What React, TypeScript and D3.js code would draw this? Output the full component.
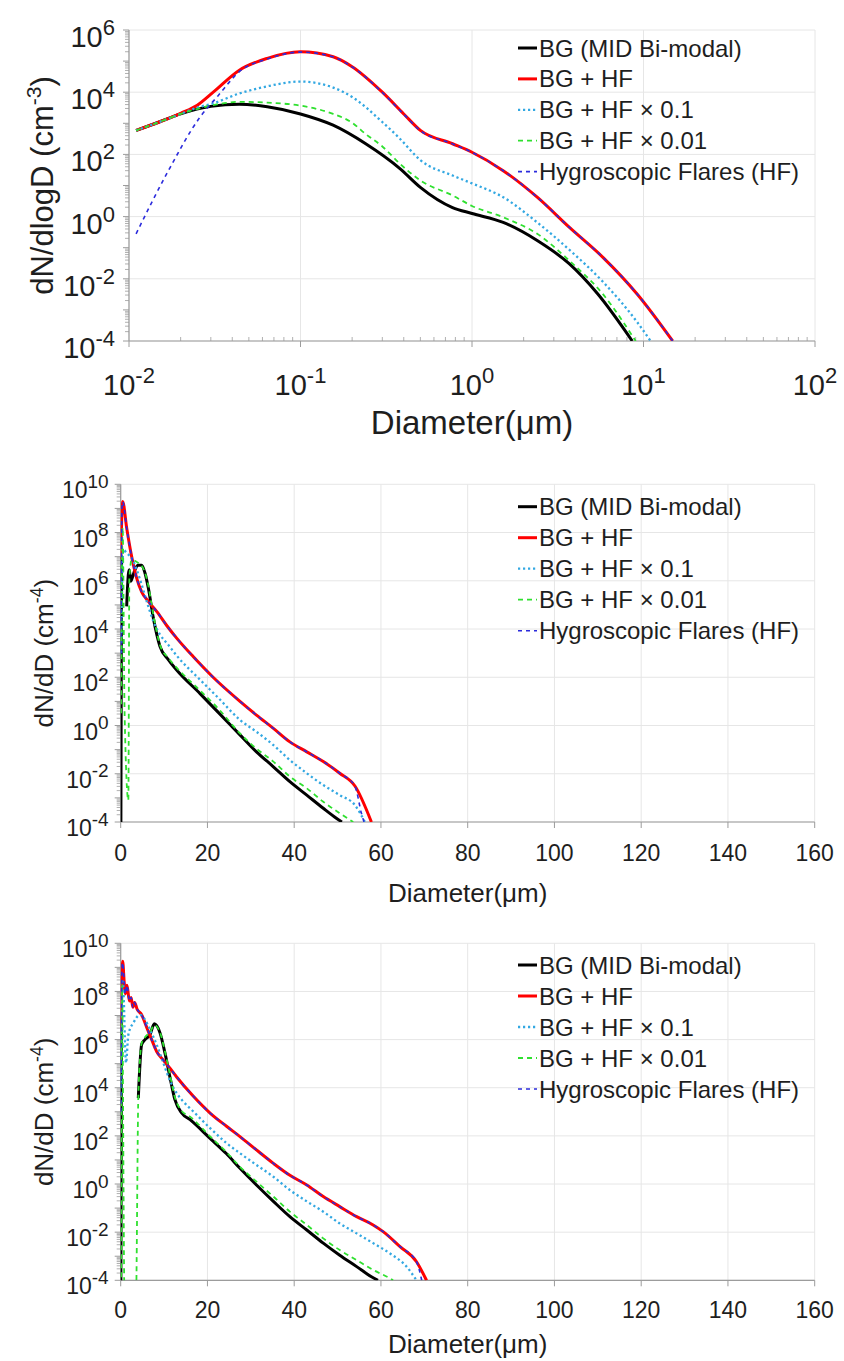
import React from 'react';
import * as d3 from 'd3';

type Pt = [number, number | null];

// ---------- top panel: diameter (um) vs dN/dlogD (cm^-3) ----------
const p1Bg: Pt[] = [
  [0.011, 590], [0.015, 1100], [0.02, 2000], [0.03, 3500], [0.044, 4100], [0.064, 3400],
  [0.1, 2000], [0.155, 870], [0.24, 220], [0.38, 35], [0.5, 8.7], [0.77, 1.95], [1.0, 1.26],
  [1.52, 0.65], [2.4, 0.17], [3.7, 0.03], [5.4, 3.3e-3], [8.6, 1e-4],
];
const p1Red: Pt[] = [
  [0.011, 590], [0.015, 1100], [0.02, 2100], [0.025, 3800], [0.031, 1.0e4], [0.044, 5.1e4],
  [0.064, 1.23e5], [0.1, 2.0e5], [0.155, 1.38e5], [0.2, 6.6e4], [0.3, 1.0e4], [0.4, 2.0e3],
  [0.5, 590], [0.77, 220], [1.0, 117], [1.52, 30], [2.4, 4.2], [3.7, 0.45], [5.8, 0.049],
  [9.2, 3.2e-3], [14.8, 1e-4],
];
const p1Cyan: Pt[] = [
  [0.011, 590], [0.015, 1100], [0.02, 2000], [0.025, 3200], [0.031, 4400], [0.044, 9100],
  [0.064, 1.55e4], [0.1, 2.2e4], [0.155, 1.41e4], [0.2, 7.0e3], [0.3, 1.1e3], [0.38, 320],
  [0.5, 65], [0.77, 21], [1.0, 11.7], [1.52, 4.2], [2.4, 0.65], [3.7, 0.085], [5.8, 8e-3],
  [9.2, 4e-4], [11, 1e-4],
];
const p1Green: Pt[] = [
  [0.011, 590], [0.015, 1100], [0.02, 2000], [0.03, 3700], [0.044, 4900], [0.064, 4600],
  [0.1, 3700], [0.155, 2000], [0.2, 1050], [0.24, 450], [0.3, 180], [0.38, 50], [0.5, 14.5],
  [0.77, 4.8], [1.0, 2.2], [1.52, 0.95], [2.4, 0.28], [3.7, 0.038], [5.8, 3.2e-3], [9.0, 1e-4],
];
const p1Hf: Pt[] = [
  [0.011, 0.28], [0.0166, 24], [0.026, 1600], [0.033, 7600], [0.044, 4.6e4], [0.064, 1.17e5],
  [0.1, 1.95e5], [0.155, 1.37e5], [0.2, 6.5e4], [0.3, 9.8e3], [0.4, 1.95e3], [0.5, 580],
  [0.77, 218], [1.0, 116], [1.52, 30], [2.4, 4.2], [3.7, 0.45], [5.8, 0.049], [9.2, 3.2e-3],
  [14.8, 1e-4],
];

// ---------- middle panel: diameter (um) vs dN/dD (cm^-4) ----------
const p2Bg: Pt[] = [
  [0.03, 1e-5], [0.2, 1e7], [0.25, null], [1.38, 8.7e4], [1.76, 1.8e6], [1.99, 2.9e6],
  [2.3, 9.5e5], [2.76, 1.5e6], [3.3, 2.9e6], [4.06, 4.4e6], [4.83, 4.4e6], [5.6, 2.1e6],
  [6.37, 5.0e5], [7.52, 2.9e4], [9.06, 1.9e3], [10.98, 540], [12.9, 200], [18.3, 21],
  [22.5, 3.5], [27.5, 0.41], [31.3, 0.081], [35.2, 0.0195], [39.0, 4.7e-3], [42.9, 1.3e-3],
  [46.7, 3.7e-4], [49.8, 1.4e-4], [51.0, 1e-4],
];
const p2Red: Pt[] = [
  [0.02, 7.9e6], [0.45, 1.95e9], [1.38, 1.55e8], [2.53, 1.0e7], [3.68, 1.3e6], [4.83, 3.5e5],
  [6.37, 1.4e5], [8.29, 5.4e4], [10.6, 1.4e4], [12.9, 4.2e3], [16.7, 720], [21.3, 100],
  [27.5, 10], [31.3, 2.7], [35.2, 0.76], [39.0, 0.21], [42.9, 0.081], [46.7, 0.032],
  [50.5, 0.0105], [54.0, 3.1e-3], [57.8, 1e-4],
];
const p2Cyan: Pt[] = [
  [0.1, 1e3], [0.6, 1.95e7], [1.38, 1.4e7], [2.53, 8.7e6], [3.68, 2.9e6], [4.83, 6.9e5],
  [6.0, 1.4e5], [7.52, 2.1e4], [9.06, 5.9e3], [10.98, 2.2e3], [12.9, 790], [18.3, 79],
  [22.5, 14], [27.5, 1.7], [31.3, 0.55], [35.2, 0.155], [39.0, 0.037], [42.9, 0.0105],
  [46.7, 3.4e-3], [50.5, 1.3e-3], [54.0, 5e-4], [56.3, 1e-4],
];
const p2Green: Pt[] = [
  [0.1, 3.2], [0.45, 1.6e8], [0.9, 3.2], [1.76, 8e-4], [2.0, 1.3e6], [2.53, 7.4e6],
  [4.06, 5.5e6], [4.83, 4.2e6], [5.6, 2.2e6], [6.37, 6.3e5], [7.52, 4.0e4], [9.06, 2.2e3],
  [10.98, 630], [12.9, 250], [18.3, 28], [22.5, 5.0], [27.5, 0.47], [31.3, 0.11],
  [35.2, 0.032], [39.0, 7.6e-3], [42.9, 2.5e-3], [46.7, 6.9e-4], [50.5, 2.3e-4], [53.6, 1e-4],
];
const p2Hf: Pt[] = [
  [0.05, 1e3], [0.3, 1.0e9], [0.45, 1.9e9], [1.38, 1.55e8], [2.53, 1.0e7], [3.68, 1.3e6],
  [4.83, 3.5e5], [6.37, 1.4e5], [8.29, 5.4e4], [10.6, 1.4e4], [12.9, 4.2e3], [16.7, 720],
  [21.3, 100], [27.5, 10], [31.3, 2.7], [35.2, 0.76], [39.0, 0.21], [42.9, 0.081],
  [46.7, 0.032], [50.5, 0.0105], [54.0, 3.1e-3], [55.5, 2.3e-4], [56.1, 1e-4],
];

// ---------- bottom panel: diameter (um) vs dN/dD (cm^-4) ----------
const p3Bg: Pt[] = [
  [0.03, 1e-5], [0.2, 1e7], [0.25, null], [4.06, 3.7e3], [4.83, 6.2e5], [5.6, 1.0e6],
  [6.75, 1.6e6], [7.75, 4.5e6], [9.06, 1.9e6], [10.2, 2.8e5], [11.4, 2.5e4], [12.5, 3.2e3],
  [14.05, 890], [16.0, 470], [20.6, 79], [24.4, 18], [27.5, 4.5], [31.3, 0.91], [35.2, 0.19],
  [39.0, 0.044], [42.9, 0.0123], [46.7, 3.5e-3], [50.5, 1.1e-3], [54.4, 3.7e-4],
  [57.8, 1.4e-4], [59.3, 1e-4],
];
const p3Red: Pt[] = [
  [0.02, 3.0e6], [0.45, 1.8e9], [0.8, 2.5e8], [1.05, 7.9e7], [1.45, 1.8e8], [2.0, 4.0e7],
  [2.4, 5.6e7], [2.8, 2.2e7], [3.2, 3.5e7], [3.8, 1.8e7], [4.8, 1.1e7], [6.0, 3.2e6],
  [7.14, 1.0e6], [8.29, 3.2e5], [9.83, 1.4e5], [11.4, 6.3e4], [12.9, 2.8e4], [16.7, 4.5e3],
  [20.6, 890], [24.4, 250], [27.5, 93], [31.3, 26], [35.2, 7.2], [39.0, 2.3], [42.9, 0.91],
  [46.7, 0.30], [50.5, 0.115], [54.4, 0.044], [58.2, 0.020], [60.5, 0.0105], [64.4, 2.5e-3],
  [68.2, 5.9e-4], [70.5, 1e-4],
];
const p3Cyan: Pt[] = [
  [0.1, 1e4], [0.5, 2.6e8], [1.22, 1.07e5], [1.76, 1.6e6], [2.9, 4.9e6], [4.45, 1.07e7],
  [5.6, 6.8e6], [6.75, 2.6e6], [8.29, 6.2e5], [9.83, 1.07e5], [11.4, 1.9e4], [12.9, 6.0e3],
  [14.4, 2.7e3], [16.7, 1.05e3], [20.6, 210], [24.4, 50], [27.5, 19], [31.3, 6.2], [35.2, 2.0],
  [39.0, 0.56], [42.9, 0.19], [46.7, 0.071], [50.5, 0.023], [54.4, 8.9e-3], [58.2, 3.5e-3],
  [62.1, 1.3e-3], [65.9, 3.7e-4], [68.2, 1e-4],
];
const p3Green: Pt[] = [
  [0.1, 1e-5], [0.3, 1.9e8], [0.9, 1e-5], [3.5, 1e-5], [4.06, 4.0e3], [4.83, 7.1e5],
  [5.6, 1.26e6], [6.75, 2.0e6], [7.75, 4.0e6], [9.06, 2.0e6], [10.2, 3.2e5], [11.4, 3.2e4],
  [12.5, 4.0e3], [14.05, 1.1e3], [16.0, 630], [20.6, 95], [24.4, 21], [27.5, 5.2],
  [31.3, 1.26], [35.2, 0.30], [39.0, 0.071], [42.9, 0.020], [46.7, 5.5e-3], [50.5, 1.8e-3],
  [54.4, 6.9e-4], [58.2, 2.7e-4], [62.1, 1.2e-4], [62.8, 1e-4],
];
const p3Hf: Pt[] = [
  [0.05, 1e3], [0.3, 1.0e9], [0.45, 1.6e9], [0.8, 2.5e8], [1.05, 7.9e7], [1.45, 1.8e8],
  [2.0, 4.0e7], [2.4, 5.6e7], [2.8, 2.2e7], [3.2, 3.5e7], [3.8, 1.8e7], [4.8, 1.1e7],
  [6.0, 3.2e6], [7.14, 1.0e6], [8.29, 3.2e5], [9.83, 1.4e5], [11.4, 6.3e4], [12.9, 2.8e4],
  [16.7, 4.5e3], [20.6, 890], [24.4, 250], [27.5, 93], [31.3, 26], [35.2, 7.2], [39.0, 2.3],
  [42.9, 0.91], [46.7, 0.30], [50.5, 0.115], [54.4, 0.044], [58.2, 0.020], [60.5, 0.0105],
  [64.4, 2.5e-3], [68.2, 5.9e-4], [69.4, 1e-4],
];

const legendLabels = [
  'BG (MID Bi-modal)',
  'BG + HF',
  'BG + HF × 0.1',
  'BG + HF × 0.01',
  'Hygroscopic Flares (HF)',
];

const p1XTicks = [0.01, 0.1, 1, 10, 100];
const p1YTicks = [1e-4, 1e-2, 1, 1e2, 1e4, 1e6];
const linXTicks = [0, 20, 40, 60, 80, 100, 120, 140, 160];
const linYTicks = [1e-4, 1e-2, 1, 1e2, 1e4, 1e6, 1e8, 1e10];

const FONT = '"Liberation Sans", Arial, Helvetica, sans-serif';
const GRID = '#e6e6e6';
const AXIS = '#9c9c9c';
const TEXT = '#1e1e1e';

const seriesStyle = [
  { stroke: '#000000', width: 3, dash: undefined as string | undefined },
  { stroke: '#ff0000', width: 3, dash: undefined },
  { stroke: '#33a8e2', width: 2.3, dash: '2.2 2.8' },
  { stroke: '#2fe02f', width: 1.8, dash: '5 4' },
  { stroke: '#2b2bdc', width: 1.6, dash: '4 4' },
];

const expOf = (t: number) => String(Math.round(Math.log10(t)));

// minor ticks (2..9 x 10^k) inside a log domain
function minorTicks(domain: number[]) {
  const out: number[] = [];
  const k0 = Math.round(Math.log10(domain[0]));
  const k1 = Math.round(Math.log10(domain[1]));
  for (let k = k0; k < k1; k++) for (let m = 2; m <= 9; m++) out.push(m * Math.pow(10, k));
  return out;
}

interface PanelProps {
  id: string;
  x: any;
  y: d3.ScaleLogarithmic<number, number>;
  logX: boolean;
  xTicks: number[];
  yTicks: number[];
  series: Pt[][];
  yTitle: string;
  yTitleExp: string;
  tickFont: number;
  supFont: number;
  titleFont: number;
  yTitleFont: number;
  yLabGap: number;
  yLabDy: number;
  supDy: number;
  xLabY: number;
  xTitleY: number;
  yTitleX: number;
  legendY0: number;
  legendStep: number;
}

function Panel(p: PanelProps) {
  const [x0, x1] = p.x.range();
  const [y0, y1] = p.y.range(); // y0 bottom, y1 top
  const line = d3
    .line<Pt>()
    .defined((d) => d[1] !== null)
    .x((d) => p.x(d[0]))
    .y((d) => p.y(d[1] as number))
    .curve(d3.curveMonotoneX);

  const yDecades = d3.range(-4, Math.round(Math.log10(p.y.domain()[1])) + 1).map((k) => Math.pow(10, k));
  const yMinor = minorTicks(p.y.domain());
  const xMinor = p.logX ? minorTicks(p.x.domain()) : [];
  const legendX = 518;

  return (
    <g fontFamily={FONT}>
      <defs>
        <clipPath id={`clip-${p.id}`}>
          <rect x={x0} y={y1 - 4} width={x1 - x0 + 4} height={y0 - y1 + 4} />
        </clipPath>
      </defs>
      {/* grid */}
      {p.xTicks.map((t) => (
        <line key={`gx${t}`} x1={p.x(t)} x2={p.x(t)} y1={y1} y2={y0} stroke={GRID} strokeWidth={1} />
      ))}
      {p.yTicks.map((t) => (
        <line key={`gy${t}`} x1={x0} x2={x1} y1={p.y(t)} y2={p.y(t)} stroke={GRID} strokeWidth={1} />
      ))}
      {/* axes */}
      <line x1={x0} x2={x0} y1={y1} y2={y0} stroke={AXIS} strokeWidth={1.2} />
      <line x1={x0} x2={x1} y1={y0} y2={y0} stroke={AXIS} strokeWidth={1.2} />
      {yMinor.map((t) => (
        <line key={`ym${t}`} x1={x0 - 4} x2={x0} y1={p.y(t)} y2={p.y(t)} stroke={AXIS} strokeWidth={0.8} />
      ))}
      {yDecades.map((t) => (
        <line key={`yM${t}`} x1={x0 - 6} x2={x0} y1={p.y(t)} y2={p.y(t)} stroke={AXIS} strokeWidth={1} />
      ))}
      {xMinor.map((t) => (
        <line key={`xm${t}`} x1={p.x(t)} x2={p.x(t)} y1={y0 - 4} y2={y0} stroke={AXIS} strokeWidth={0.8} />
      ))}
      {p.xTicks.map((t) => (
        <line key={`xM${t}`} x1={p.x(t)} x2={p.x(t)} y1={y0} y2={y0 + 6} stroke={AXIS} strokeWidth={1} />
      ))}
      {/* tick labels */}
      {p.yTicks.map((t) => (
        <text key={`yl${t}`} x={x0 - p.yLabGap} y={p.y(t) + p.yLabDy} textAnchor="end" fontSize={p.tickFont} fill={TEXT}>
          10
          <tspan dy={p.supDy} fontSize={p.supFont}>{expOf(t)}</tspan>
        </text>
      ))}
      {p.xTicks.map((t) =>
        p.logX ? (
          <text key={`xl${t}`} x={p.x(t)} y={p.xLabY} textAnchor="middle" fontSize={p.tickFont} fill={TEXT}>
            10
            <tspan dy={p.supDy} fontSize={p.supFont}>{expOf(t)}</tspan>
          </text>
        ) : (
          <text key={`xl${t}`} x={p.x(t)} y={p.xLabY} textAnchor="middle" fontSize={p.tickFont} fill={TEXT}>
            {t}
          </text>
        )
      )}
      {/* axis titles */}
      <text x={(x0 + x1) / 2} y={p.xTitleY} textAnchor="middle" fontSize={p.titleFont} fill={TEXT}>
        Diameter(μm)
      </text>
      <text
        transform={`translate(${p.yTitleX},${(y0 + y1) / 2}) rotate(-90)`}
        textAnchor="middle"
        fontSize={p.yTitleFont}
        fill={TEXT}
      >
        {p.yTitle} (cm
        <tspan dy={-p.yTitleFont * 0.4} fontSize={p.yTitleFont * 0.68}>{p.yTitleExp}</tspan>
        <tspan dy={p.yTitleFont * 0.4}>)</tspan>
      </text>
      {/* series */}
      <g clipPath={`url(#clip-${p.id})`}>
        {p.series.map((s, i) => (
          <path
            key={i}
            d={line(s) || ''}
            fill="none"
            stroke={seriesStyle[i].stroke}
            strokeWidth={seriesStyle[i].width}
            strokeDasharray={seriesStyle[i].dash}
            strokeLinejoin="round"
          />
        ))}
      </g>
      {/* legend */}
      {legendLabels.map((lab, i) => {
        const cy = p.legendY0 + i * p.legendStep;
        const st = seriesStyle[i];
        return (
          <g key={lab}>
            <line
              x1={legendX}
              x2={legendX + 19}
              y1={cy}
              y2={cy}
              stroke={st.stroke}
              strokeWidth={st.width}
              strokeDasharray={st.dash}
            />
            <text x={legendX + 21} y={cy + 8.5} fontSize={24} fill={TEXT}>
              {lab}
            </text>
          </g>
        );
      })}
    </g>
  );
}

export default function App() {
  const x1 = d3.scaleLog().domain([0.01, 100]).range([129, 815]);
  const y1 = d3.scaleLog().domain([1e-4, 1e6]).range([341, 30]);
  const xl = d3.scaleLinear().domain([0, 160]).range([120.7, 814.7]);
  const y2 = d3.scaleLog().domain([1e-4, 1e10]).range([822, 484.3]);
  const y3 = d3.scaleLog().domain([1e-4, 1e10]).range([1280.3, 943.3]);

  return (
    <svg
      width={844}
      height={1361}
      style={{ position: 'absolute', left: 0, top: 0, background: '#ffffff' }}
    >
      <rect width={844} height={1361} fill="#ffffff" />
      <Panel
        id="p1"
        x={x1}
        y={y1}
        logX
        xTicks={p1XTicks}
        yTicks={p1YTicks}
        series={[p1Bg, p1Red, p1Cyan, p1Green, p1Hf]}
        yTitle="dN/dlogD"
        yTitleExp="-3"
        tickFont={29}
        supFont={22}
        titleFont={33}
        yTitleFont={31}
        yLabGap={14}
        yLabDy={17}
        supDy={-12}
        xLabY={395}
        xTitleY={434}
        yTitleX={53}
        legendY0={48}
        legendStep={30.9}
      />
      <Panel
        id="p2"
        x={xl}
        y={y2}
        logX={false}
        xTicks={linXTicks}
        yTicks={linYTicks}
        series={[p2Bg, p2Red, p2Cyan, p2Green, p2Hf]}
        yTitle="dN/dD"
        yTitleExp="-4"
        tickFont={23}
        supFont={19}
        titleFont={26}
        yTitleFont={26}
        yLabGap={12}
        yLabDy={14}
        supDy={-10.5}
        xLabY={861}
        xTitleY={902}
        yTitleX={53}
        legendY0={506.7}
        legendStep={31}
      />
      <Panel
        id="p3"
        x={xl}
        y={y3}
        logX={false}
        xTicks={linXTicks}
        yTicks={linYTicks}
        series={[p3Bg, p3Red, p3Cyan, p3Green, p3Hf]}
        yTitle="dN/dD"
        yTitleExp="-4"
        tickFont={23}
        supFont={19}
        titleFont={26}
        yTitleFont={26}
        yLabGap={12}
        yLabDy={14}
        supDy={-10.5}
        xLabY={1318}
        xTitleY={1353}
        yTitleX={53}
        legendY0={965}
        legendStep={31}
      />
    </svg>
  );
}
